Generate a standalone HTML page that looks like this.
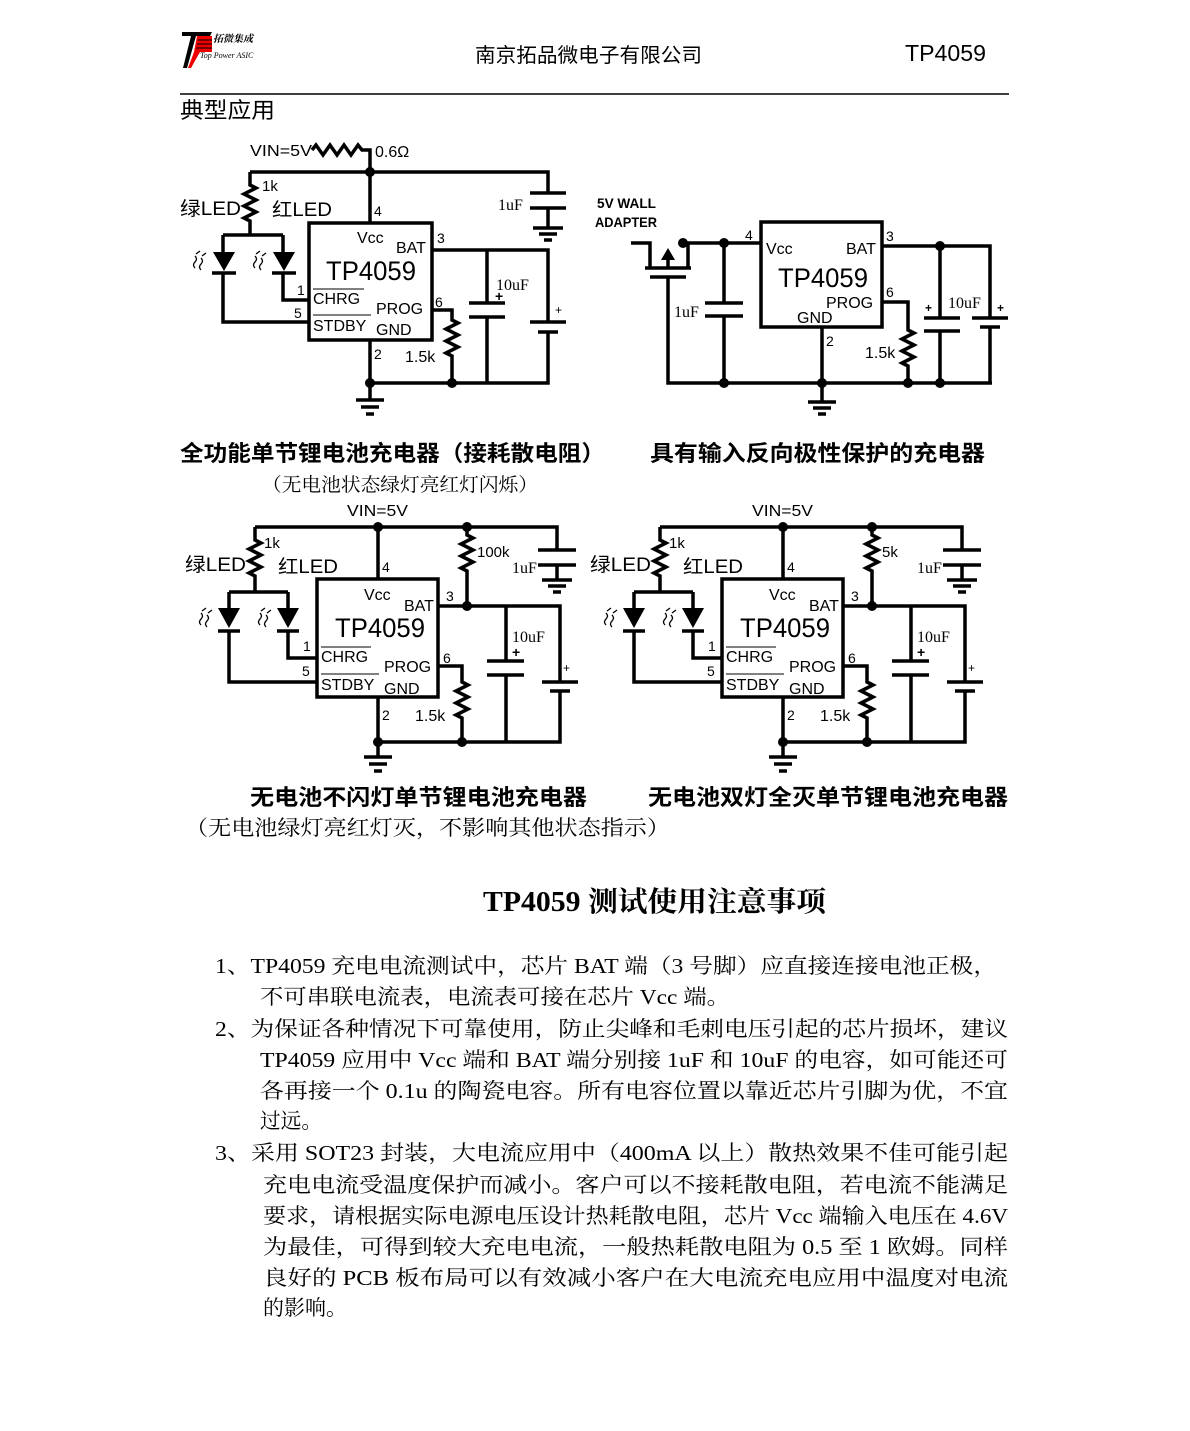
<!DOCTYPE html>
<html><head><meta charset="utf-8"><style>
html,body{margin:0;padding:0;background:#fff;}
svg{display:block}
.s{font-family:"Liberation Sans","Noto Sans CJK SC",sans-serif;}
.r{font-family:"Liberation Serif","Noto Serif CJK SC",serif;}
</style></head><body>
<svg width="1190" height="1431" viewBox="0 0 1190 1431" xmlns="http://www.w3.org/2000/svg">
<!-- header -->
<polygon points="182,32 212,32 210,36 196,36 187,68 183,68 191,36 182,36" fill="#000"/>
<polygon points="197,36 212,36 212,52 194,52" fill="#e00"/>
<path d="M198 40H212M197 44H212M196 48H212" stroke="#000" stroke-width="1"/>
<polygon points="194,52 200,52 191,68 188,68" fill="#e00"/>
<text x="213" y="42" class="r" font-size="10" font-style="italic" font-weight="bold">拓微集成</text>
<text x="200" y="58" class="r" font-size="8" font-style="italic">Top Power ASIC</text>
<text x="475" y="62" class="s" font-size="20" textLength="227" lengthAdjust="spacingAndGlyphs">南京拓品微电子有限公司</text>
<text x="905" y="61" class="s" font-size="23" textLength="81" lengthAdjust="spacingAndGlyphs">TP4059</text>
<line x1="180" y1="94" x2="1009" y2="94" stroke="#000" stroke-width="1.5"/>
<text x="180" y="118" class="s" font-size="22" textLength="95" lengthAdjust="spacingAndGlyphs">典型应用</text>

<g fill="none" stroke="#000" stroke-width="3.5">
<!-- circuit 1 -->
<path d="M312 150 l4 -5 l7 10 l7 -10 l7 10 l7 -10 l7 10 l7 -10 l4 5 H370 V223"/>
<path d="M250 172 H548 V193 M530 193 H566 M530 208 H566 M548 208 V228 M533 228 H563 M539 234 H557 M544 240 H552"/>
<path d="M250 172 V185 l6 3 l-12 6 l12 6 l-12 6 l12 6 l-12 6 l6 3 V235 M223 235 H283"/>
<path d="M223 235 V252 M223 273 V322 H309 M283 235 V252 M283 273 V300 H309 M212 273 H236 M272 273 H296"/>
<rect x="309" y="223" width="123" height="117"/>
<path d="M432 250 H548 V322 M530 322 H566 M538 332 H558 M548 332 V383 H370"/>
<path d="M487 250 V303 M469 303 H505 M469 317 H505 M487 317 V383"/>
<path d="M432 310 H452 V320 l6 3 l-12 6 l12 6 l-12 6 l12 6 l-12 6 l6 3 V383"/>
<path d="M370 340 V400 M356 400 H384 M361 407 H379 M366 414 H374"/>
<!-- circuit 2 -->
<path d="M631 243 H650 V268 M645 268 H691 M650 277 H686 M668 277 V383 H992 M688 268 V243 M668 268 V256 M683 243 H761"/>
<path d="M724 243 V303 M705 303 H743 M705 316 H743 M724 316 V383"/>
<rect x="761" y="222" width="121" height="105"/>
<path d="M822 327 V402 M808 402 H836 M813 408 H831 M818 414 H826"/>
<path d="M882 246 H990 V318 M972 318 H1008 M980 327 H1000 M990 327 V383"/>
<path d="M940 246 V318 M924 318 H960 M924 331 H960 M940 331 V383"/>
<path d="M882 302 H908 V330 l6 3 l-12 6 l12 6 l-12 6 l12 6 l-12 6 l6 3 V383"/>
</g>
<g fill="#000">
<polygon points="213,252 235,252 224,271"/><polygon points="273,252 295,252 284,271"/>
<circle cx="370" cy="172" r="5"/><circle cx="370" cy="383" r="5"/><circle cx="452" cy="383" r="5"/>
<polygon points="661,260 675,260 668,248"/>
<circle cx="683" cy="243" r="5"/><circle cx="724" cy="243" r="5"/><circle cx="724" cy="383" r="5"/>
<circle cx="822" cy="383" r="5"/><circle cx="908" cy="383" r="5"/><circle cx="940" cy="383" r="5"/><circle cx="940" cy="246" r="5"/>
</g>
<g fill="none" stroke="#000" stroke-width="1.3">
<path d="M195 256 q3 3 0 6 q-3 3 0 6 M201 258 q3 3 0 6 q-3 3 0 6 M196 254 l4 -3 M202 256 l4 -3"/>
<path d="M255 256 q3 3 0 6 q-3 3 0 6 M261 258 q3 3 0 6 q-3 3 0 6 M256 254 l4 -3 M262 256 l4 -3"/>
</g>
<g class="s" font-size="16" fill="#000">
<text x="250" y="156" textLength="62" lengthAdjust="spacingAndGlyphs">VIN=5V</text>
<text x="375" y="157">0.6Ω</text>
<text x="262" y="191" font-size="15">1k</text>
<text x="180" y="215" font-size="19" textLength="61" lengthAdjust="spacingAndGlyphs">绿LED</text>
<text x="272" y="216" font-size="19" textLength="60" lengthAdjust="spacingAndGlyphs">红LED</text>
<text x="374" y="216" font-size="14">4</text>
<text x="357" y="243">Vcc</text>
<text x="396" y="253">BAT</text>
<text x="326" y="280" font-size="27" textLength="90" lengthAdjust="spacingAndGlyphs">TP4059</text>
<text x="313" y="304">CHRG</text>
<line x1="313" y1="289" x2="364" y2="289" stroke="#000" stroke-width="1"/>
<text x="297" y="295" font-size="14">1</text>
<text x="294" y="318" font-size="14">5</text>
<text x="376" y="314">PROG</text>
<text x="313" y="331">STDBY</text>
<line x1="313" y1="315" x2="371" y2="315" stroke="#000" stroke-width="1"/>
<text x="376" y="335">GND</text>
<text x="437" y="243" font-size="14">3</text>
<text x="435" y="307" font-size="14">6</text>
<text x="374" y="359" font-size="14">2</text>
<text x="405" y="362">1.5k</text>
<text x="555" y="314" font-size="12">+</text>
<text x="496" y="290" class="r" font-size="16">10uF</text>
<text x="495" y="301" font-size="14" font-weight="bold">+</text>
<text x="498" y="210" class="r" font-size="16">1uF</text>
<!-- c2 -->
<text x="597" y="208" font-size="14" font-weight="bold" textLength="59" lengthAdjust="spacingAndGlyphs">5V WALL</text>
<text x="595" y="227" font-size="14" font-weight="bold" textLength="62" lengthAdjust="spacingAndGlyphs">ADAPTER</text>
<text x="745" y="240" font-size="14">4</text>
<text x="766" y="254">Vcc</text>
<text x="846" y="254">BAT</text>
<text x="886" y="241" font-size="14">3</text>
<text x="778" y="287" font-size="27" textLength="90" lengthAdjust="spacingAndGlyphs">TP4059</text>
<text x="826" y="308">PROG</text>
<text x="797" y="323">GND</text>
<text x="886" y="297" font-size="14">6</text>
<text x="826" y="346" font-size="14">2</text>
<text x="865" y="358">1.5k</text>
<text x="674" y="317" class="r" font-size="16">1uF</text>
<text x="925" y="312" font-size="12" font-weight="bold">+</text>
<text x="948" y="308" class="r" font-size="16">10uF</text>
<text x="997" y="312" font-size="12" font-weight="bold">+</text>
</g>

<!-- circuit 3 & 4 -->
<g id="c3">
<g fill="none" stroke="#000" stroke-width="3.5">
<path d="M255 527 H557 V550 M538 550 H576 M538 565 H576 M557 565 V580 M542 580 H572 M548 586 H566 M553 592 H561"/>
<path d="M378 527 V579"/>
<path d="M467 527 V535 l6 3 l-12 6 l12 6 l-12 6 l12 6 l-12 6 l6 3 V606"/>
<rect x="317" y="579" width="121" height="118"/>
<path d="M438 606 H560 V682 M542 682 H578 M550 691 H570 M560 691 V742 H378"/>
<path d="M506 606 V661 M487 661 H524 M487 675 H524 M506 675 V742"/>
<path d="M438 666 H462 V682 l6 3 l-12 6 l12 6 l-12 6 l12 6 l-12 6 l6 3 V742"/>
<path d="M378 697 V757 M364 757 H392 M369 764 H387 M374 771 H382"/>
<path d="M255 527 V540 l6 3 l-12 6 l12 6 l-12 6 l12 6 l-12 6 l6 3 V592 M229 592 H288"/>
<path d="M229 592 V608 M229 631 V682 H317 M288 592 V608 M288 631 V658 H317 M218 631 H240 M277 631 H299"/>
</g>
<g fill="#000">
<polygon points="218,608 240,608 229,628"/><polygon points="277,608 299,608 288,628"/>
<circle cx="378" cy="527" r="5"/><circle cx="467" cy="527" r="5"/><circle cx="467" cy="606" r="5"/>
<circle cx="378" cy="742" r="5"/><circle cx="462" cy="742" r="5"/>
</g>
<g fill="none" stroke="#000" stroke-width="1.3">
<path d="M201 613 q3 3 0 6 q-3 3 0 6 M207 615 q3 3 0 6 q-3 3 0 6 M202 611 l4 -3 M208 613 l4 -3"/>
<path d="M260 613 q3 3 0 6 q-3 3 0 6 M266 615 q3 3 0 6 q-3 3 0 6 M261 611 l4 -3 M267 613 l4 -3"/>
</g>
<g class="s" font-size="16" fill="#000">
<text x="347" y="516" textLength="61" lengthAdjust="spacingAndGlyphs">VIN=5V</text>
<text x="264" y="548" font-size="15">1k</text>
<text x="185" y="571" font-size="19" textLength="61" lengthAdjust="spacingAndGlyphs">绿LED</text>
<text x="278" y="573" font-size="19" textLength="60" lengthAdjust="spacingAndGlyphs">红LED</text>
<text x="382" y="572" font-size="14">4</text>
<text x="364" y="600">Vcc</text>
<text x="404" y="611">BAT</text>
<text x="335" y="637" font-size="27" textLength="90" lengthAdjust="spacingAndGlyphs">TP4059</text>
<text x="321" y="662">CHRG</text>
<line x1="321" y1="647" x2="371" y2="647" stroke="#000" stroke-width="1"/>
<text x="303" y="651" font-size="14">1</text>
<text x="302" y="676" font-size="14">5</text>
<text x="384" y="672">PROG</text>
<text x="321" y="690">STDBY</text>
<line x1="321" y1="674" x2="379" y2="674" stroke="#000" stroke-width="1"/>
<text x="384" y="694">GND</text>
<text x="446" y="601" font-size="14">3</text>
<text x="443" y="663" font-size="14">6</text>
<text x="382" y="720" font-size="14">2</text>
<text x="415" y="721">1.5k</text>
<text x="512" y="642" class="r" font-size="16">10uF</text>
<text x="512" y="657" font-size="14" font-weight="bold">+</text>
<text x="563" y="672" font-size="12">+</text>
<text x="512" y="573" class="r" font-size="16">1uF</text>
</g>
</g>
<text x="477" y="557" class="s" font-size="15">100k</text>

<g transform="translate(405,0)">
<g fill="none" stroke="#000" stroke-width="3.5">
<path d="M255 527 H557 V550 M538 550 H576 M538 565 H576 M557 565 V580 M542 580 H572 M548 586 H566 M553 592 H561"/>
<path d="M378 527 V579"/>
<path d="M467 527 V535 l6 3 l-12 6 l12 6 l-12 6 l12 6 l-12 6 l6 3 V606"/>
<rect x="317" y="579" width="121" height="118"/>
<path d="M438 606 H560 V682 M542 682 H578 M550 691 H570 M560 691 V742 H378"/>
<path d="M506 606 V661 M487 661 H524 M487 675 H524 M506 675 V742"/>
<path d="M438 666 H462 V682 l6 3 l-12 6 l12 6 l-12 6 l12 6 l-12 6 l6 3 V742"/>
<path d="M378 697 V757 M364 757 H392 M369 764 H387 M374 771 H382"/>
<path d="M255 527 V540 l6 3 l-12 6 l12 6 l-12 6 l12 6 l-12 6 l6 3 V592 M229 592 H288"/>
<path d="M229 592 V608 M229 631 V682 H317 M288 592 V608 M288 631 V658 H317 M218 631 H240 M277 631 H299"/>
</g>
<g fill="#000">
<polygon points="218,608 240,608 229,628"/><polygon points="277,608 299,608 288,628"/>
<circle cx="378" cy="527" r="5"/><circle cx="467" cy="527" r="5"/><circle cx="467" cy="606" r="5"/>
<circle cx="378" cy="742" r="5"/><circle cx="462" cy="742" r="5"/>
</g>
<g fill="none" stroke="#000" stroke-width="1.3">
<path d="M201 613 q3 3 0 6 q-3 3 0 6 M207 615 q3 3 0 6 q-3 3 0 6 M202 611 l4 -3 M208 613 l4 -3"/>
<path d="M260 613 q3 3 0 6 q-3 3 0 6 M266 615 q3 3 0 6 q-3 3 0 6 M261 611 l4 -3 M267 613 l4 -3"/>
</g>
<g class="s" font-size="16" fill="#000">
<text x="347" y="516" textLength="61" lengthAdjust="spacingAndGlyphs">VIN=5V</text>
<text x="264" y="548" font-size="15">1k</text>
<text x="185" y="571" font-size="19" textLength="61" lengthAdjust="spacingAndGlyphs">绿LED</text>
<text x="278" y="573" font-size="19" textLength="60" lengthAdjust="spacingAndGlyphs">红LED</text>
<text x="382" y="572" font-size="14">4</text>
<text x="364" y="600">Vcc</text>
<text x="404" y="611">BAT</text>
<text x="335" y="637" font-size="27" textLength="90" lengthAdjust="spacingAndGlyphs">TP4059</text>
<text x="321" y="662">CHRG</text>
<line x1="321" y1="647" x2="371" y2="647" stroke="#000" stroke-width="1"/>
<text x="303" y="651" font-size="14">1</text>
<text x="302" y="676" font-size="14">5</text>
<text x="384" y="672">PROG</text>
<text x="321" y="690">STDBY</text>
<line x1="321" y1="674" x2="379" y2="674" stroke="#000" stroke-width="1"/>
<text x="384" y="694">GND</text>
<text x="446" y="601" font-size="14">3</text>
<text x="443" y="663" font-size="14">6</text>
<text x="382" y="720" font-size="14">2</text>
<text x="415" y="721">1.5k</text>
<text x="512" y="642" class="r" font-size="16">10uF</text>
<text x="512" y="657" font-size="14" font-weight="bold">+</text>
<text x="563" y="672" font-size="12">+</text>
<text x="512" y="573" class="r" font-size="16">1uF</text>
<text x="477" y="557" font-size="15">5k</text>
</g>
</g>

<!-- captions -->
<g class="s" fill="#000" font-weight="bold">
<text x="180" y="461" font-size="22" textLength="425" lengthAdjust="spacingAndGlyphs">全功能单节锂电池充电器（接耗散电阻）</text>
<text x="650" y="461" font-size="22" textLength="335" lengthAdjust="spacingAndGlyphs">具有输入反向极性保护的充电器</text>
<text x="250" y="805" font-size="22" textLength="337" lengthAdjust="spacingAndGlyphs">无电池不闪灯单节锂电池充电器</text>
<text x="648" y="805" font-size="22" textLength="360" lengthAdjust="spacingAndGlyphs">无电池双灯全灭单节锂电池充电器</text>
</g>
<g class="r" fill="#000">
<text x="262" y="491" font-size="19" textLength="276" lengthAdjust="spacingAndGlyphs">（无电池状态绿灯亮红灯闪烁）</text>
<text x="185" y="835" font-size="21" textLength="485" lengthAdjust="spacingAndGlyphs">（无电池绿灯亮红灯灭，不影响其他状态指示）</text>
<text x="483" y="911" font-size="28" font-weight="bold" textLength="343" lengthAdjust="spacingAndGlyphs">TP4059 测试使用注意事项</text>
</g>
<g class="r" fill="#000" font-size="21">
<text x="215" y="973" textLength="782" lengthAdjust="spacingAndGlyphs">1、TP4059 充电电流测试中，芯片 BAT 端（3 号脚）应直接连接电池正极，</text>
<text x="260" y="1004" textLength="470" lengthAdjust="spacingAndGlyphs">不可串联电流表，电流表可接在芯片 Vcc 端。</text>
<text x="215" y="1036" textLength="793" lengthAdjust="spacingAndGlyphs">2、为保证各种情况下可靠使用，防止尖峰和毛刺电压引起的芯片损坏，建议</text>
<text x="260" y="1067" textLength="748" lengthAdjust="spacingAndGlyphs">TP4059 应用中 Vcc 端和 BAT 端分别接 1uF 和 10uF 的电容，如可能还可</text>
<text x="260" y="1098" textLength="748" lengthAdjust="spacingAndGlyphs">各再接一个 0.1u  的陶瓷电容。所有电容位置以靠近芯片引脚为优，不宜</text>
<text x="260" y="1128" textLength="62" lengthAdjust="spacingAndGlyphs">过远。</text>
<text x="215" y="1160" textLength="793" lengthAdjust="spacingAndGlyphs">3、采用 SOT23 封装，大电流应用中（400mA 以上）散热效果不佳可能引起</text>
<text x="263" y="1192" textLength="745" lengthAdjust="spacingAndGlyphs">充电电流受温度保护而减小。客户可以不接耗散电阻，若电流不能满足</text>
<text x="263" y="1223" textLength="745" lengthAdjust="spacingAndGlyphs">要求，请根据实际电源电压设计热耗散电阻，芯片 Vcc 端输入电压在 4.6V</text>
<text x="263" y="1254" textLength="745" lengthAdjust="spacingAndGlyphs">为最佳，可得到较大充电电流，一般热耗散电阻为 0.5 至 1 欧姆。同样</text>
<text x="263" y="1285" textLength="745" lengthAdjust="spacingAndGlyphs">良好的 PCB 板布局可以有效减小客户在大电流充电应用中温度对电流</text>
<text x="263" y="1315" textLength="84" lengthAdjust="spacingAndGlyphs">的影响。</text>
</g>
</svg>
</body></html>
